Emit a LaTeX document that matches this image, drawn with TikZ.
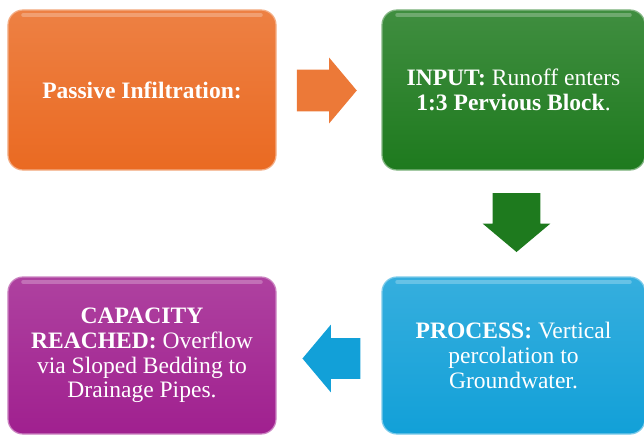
\documentclass[tikz,border=0pt]{standalone}
\usepackage{fontspec}
\setmainfont{Liberation Serif}
\newfontfamily\stagefont{Liberation Serif}
\usetikzlibrary{shapes.arrows}

\definecolor{infilorange}{HTML}{EA6A22}
\definecolor{inputgreen}{HTML}{1E7A1E}
\definecolor{processblue}{HTML}{12A0D8}
\definecolor{capacitypurple}{HTML}{A0208F}

\tikzset{
  stage/.style={rounded corners=0.3cm, inner sep=0pt, align=center,
    text=white, font=\stagefont\fontsize{13.4}{14}\selectfont,
    top color=#1!85!white, bottom color=#1, draw=#1!55!white, line width=0.7pt,
    path picture={
      \draw[white, opacity=0.25, line width=2pt, line cap=round]
        ([xshift=0.3cm,yshift=-0.1cm]path picture bounding box.north west)
        -- ([xshift=-0.3cm,yshift=-0.1cm]path picture bounding box.north east);
    }},
  flow/.style={single arrow, inner xsep=0pt, fill=#1, draw=none,
    single arrow tip angle=100, single arrow head indent=0pt}
}

\begin{document}
\begin{tikzpicture}
\useasboundingbox (0,0) rectangle (12.88,8.68);

% Stages
\node[stage=infilorange, minimum width=5.36cm, minimum height=3.2cm] (infil) at (2.84,6.88)
  {\textbf{Passive Infiltration:}};
\node[stage=inputgreen, minimum width=5.26cm, minimum height=3.2cm] (input) at (10.27,6.88)
  {\textbf{INPUT:} Runoff enters\\ \textbf{1:3 Pervious Block}.};
\node[stage=processblue, minimum width=5.26cm, minimum height=3.14cm] (process) at (10.27,1.57)
  {\textbf{PROCESS:} Vertical\\ percolation to\\ Groundwater.};
\node[stage=capacitypurple, minimum width=5.36cm, minimum height=3.14cm] (capacity) at (2.84,1.57)
  {\textbf{CAPACITY}\\ \textbf{REACHED:} Overflow\\ via Sloped Bedding to\\ Drainage Pipes.};

% Arrows between stages
\node[flow=infilorange!90!white, minimum height=1.2cm, inner ysep=0.41cm,
  single arrow head extend=0.24cm] (toinput) at (6.36,6.87) {};
\node[flow=inputgreen, minimum height=1.18cm, inner ysep=0.47cm,
  single arrow head extend=0.2cm, rotate=-90] (toprocess) at (10.33,4.43) {};
\node[flow=processblue, minimum height=1.16cm, inner ysep=0.4cm,
  single arrow head extend=0.27cm, rotate=180] (tocapacity) at (6.80,1.51) {};

\end{tikzpicture}
\end{document}
